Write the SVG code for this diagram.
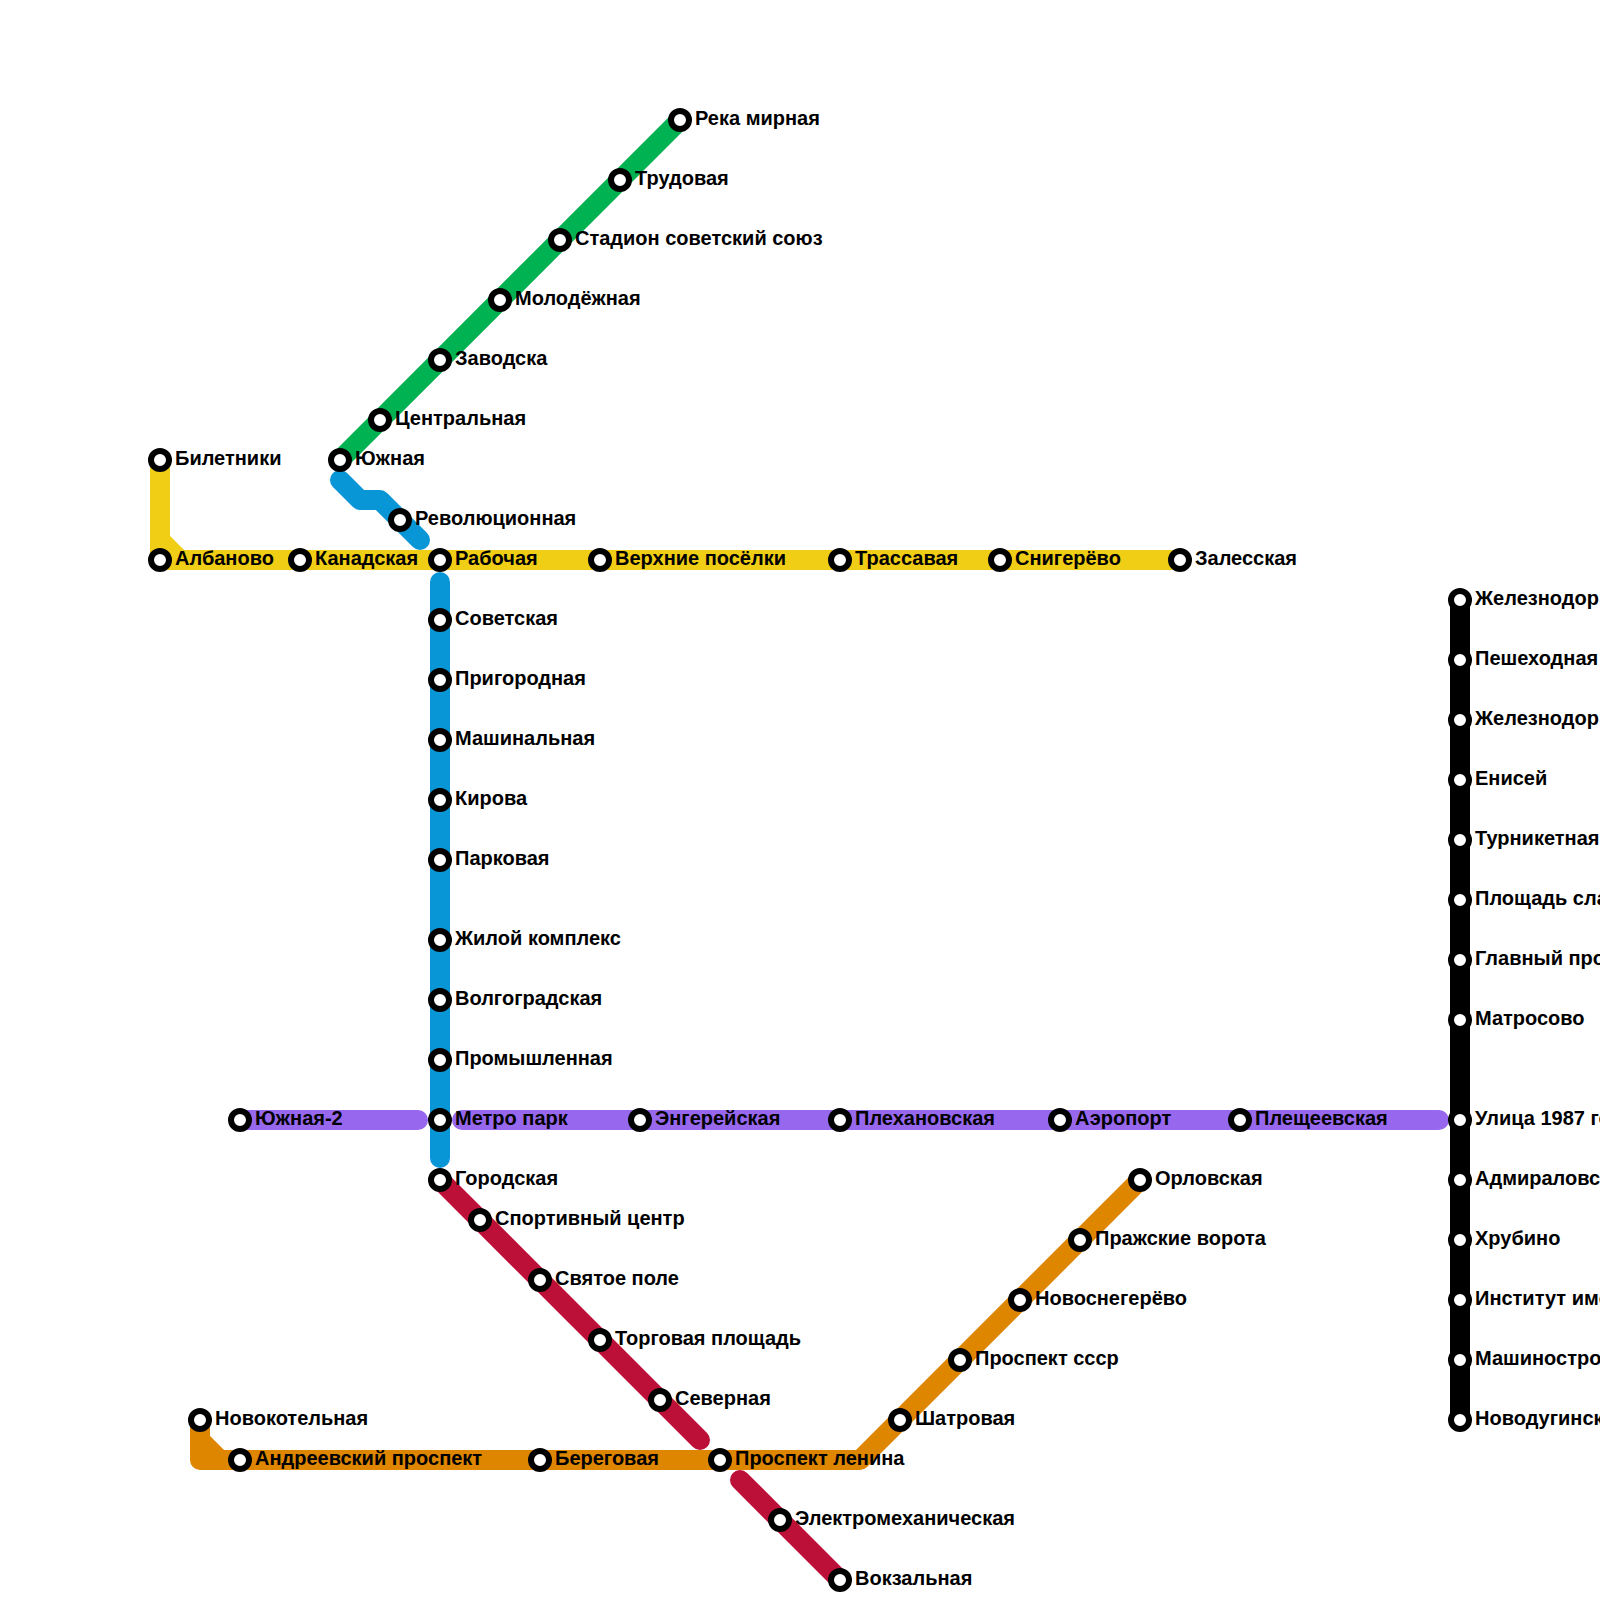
<svg xmlns="http://www.w3.org/2000/svg" width="1600" height="1600" viewBox="0 0 1600 1600">
<style>
.l{fill:none;stroke-width:20;stroke-linecap:round;stroke-linejoin:round}
.g{stroke:#00b251}.b{stroke:#0896d7}.y{stroke:#f0ce15}.p{stroke:#9768ee}.r{stroke:#bd1038}.o{stroke:#df8600}.k{stroke:#000}
.s circle{fill:#fff;stroke:#000;stroke-width:6}
.s text{font-family:"Liberation Sans",Arial,sans-serif;font-weight:bold;font-size:20px;fill:#000}
</style>
<g id="connectors">
<path class="l g" d="M340 460L680 120"/>
<path class="l b" d="M340 480L360 500H380L420 540"/>
<path class="l y" d="M160 460V560H1180M160 540L180 560"/>
<path class="l b" d="M440 582V1158"/>
<path class="l p" d="M240 1120H418M462 1120H1439"/>
<path class="l r" d="M440 1180L700 1440M740 1480L840 1580"/>
<path class="l o" d="M200 1420V1460H860L1140 1180M200 1440L220 1460"/>
<path class="l k" style="stroke-linecap:butt" d="M1460 600V1420"/>
</g>
<g id="stations" class="s">
<g id="n1"><circle cx="160" cy="460" r="9"/><text x="175" y="465">Билетники</text></g>
<g id="n2"><circle cx="160" cy="560" r="9"/><text x="175" y="565">Албаново</text></g>
<g id="n3"><circle cx="300" cy="560" r="9"/><text x="315" y="565">Канадская</text></g>
<g id="n4"><circle cx="440" cy="560" r="9"/><text x="455" y="565">Рабочая</text></g>
<g id="n5"><circle cx="600" cy="560" r="9"/><text x="615" y="565">Верхние посёлки</text></g>
<g id="n6"><circle cx="840" cy="560" r="9"/><text x="855" y="565">Трассавая</text></g>
<g id="n7"><circle cx="1000" cy="560" r="9"/><text x="1015" y="565">Снигерёво</text></g>
<g id="n8"><circle cx="1180" cy="560" r="9"/><text x="1195" y="565">Залесская</text></g>
<g id="n9"><circle cx="340" cy="460" r="9"/><text x="355" y="465">Южная</text></g>
<g id="n10"><circle cx="380" cy="420" r="9"/><text x="395" y="425">Центральная</text></g>
<g id="n11"><circle cx="440" cy="360" r="9"/><text x="455" y="365">Заводска</text></g>
<g id="n12"><circle cx="500" cy="300" r="9"/><text x="515" y="305">Молодёжная</text></g>
<g id="n13"><circle cx="560" cy="240" r="9"/><text x="575" y="245">Стадион советский союз</text></g>
<g id="n14"><circle cx="620" cy="180" r="9"/><text x="635" y="185">Трудовая</text></g>
<g id="n15"><circle cx="680" cy="120" r="9"/><text x="695" y="125">Река мирная</text></g>
<g id="n16"><circle cx="400" cy="520" r="9"/><text x="415" y="525">Революционная</text></g>
<g id="n17"><circle cx="440" cy="620" r="9"/><text x="455" y="625">Советская</text></g>
<g id="n18"><circle cx="440" cy="680" r="9"/><text x="455" y="685">Пригородная</text></g>
<g id="n19"><circle cx="440" cy="740" r="9"/><text x="455" y="745">Машинальная</text></g>
<g id="n20"><circle cx="440" cy="800" r="9"/><text x="455" y="805">Кирова</text></g>
<g id="n21"><circle cx="440" cy="860" r="9"/><text x="455" y="865">Парковая</text></g>
<g id="n22"><circle cx="440" cy="940" r="9"/><text x="455" y="945">Жилой комплекс</text></g>
<g id="n23"><circle cx="440" cy="1000" r="9"/><text x="455" y="1005">Волгоградская</text></g>
<g id="n24"><circle cx="440" cy="1060" r="9"/><text x="455" y="1065">Промышленная</text></g>
<g id="n25"><circle cx="440" cy="1120" r="9"/><text x="455" y="1125">Метро парк</text></g>
<g id="n26"><circle cx="440" cy="1180" r="9"/><text x="455" y="1185">Городская</text></g>
<g id="n27"><circle cx="240" cy="1120" r="9"/><text x="255" y="1125">Южная-2</text></g>
<g id="n28"><circle cx="640" cy="1120" r="9"/><text x="655" y="1125">Энгерейская</text></g>
<g id="n29"><circle cx="840" cy="1120" r="9"/><text x="855" y="1125">Плехановская</text></g>
<g id="n30"><circle cx="1060" cy="1120" r="9"/><text x="1075" y="1125">Аэропорт</text></g>
<g id="n31"><circle cx="1240" cy="1120" r="9"/><text x="1255" y="1125">Плещеевская</text></g>
<g id="n32"><circle cx="480" cy="1220" r="9"/><text x="495" y="1225">Спортивный центр</text></g>
<g id="n33"><circle cx="540" cy="1280" r="9"/><text x="555" y="1285">Святое поле</text></g>
<g id="n34"><circle cx="600" cy="1340" r="9"/><text x="615" y="1345">Торговая площадь</text></g>
<g id="n35"><circle cx="660" cy="1400" r="9"/><text x="675" y="1405">Северная</text></g>
<g id="n36"><circle cx="780" cy="1520" r="9"/><text x="795" y="1525">Электромеханическая</text></g>
<g id="n37"><circle cx="840" cy="1580" r="9"/><text x="855" y="1585">Вокзальная</text></g>
<g id="n38"><circle cx="200" cy="1420" r="9"/><text x="215" y="1425">Новокотельная</text></g>
<g id="n39"><circle cx="240" cy="1460" r="9"/><text x="255" y="1465">Андреевский проспект</text></g>
<g id="n40"><circle cx="540" cy="1460" r="9"/><text x="555" y="1465">Береговая</text></g>
<g id="n41"><circle cx="720" cy="1460" r="9"/><text x="735" y="1465">Проспект ленина</text></g>
<g id="n42"><circle cx="900" cy="1420" r="9"/><text x="915" y="1425">Шатровая</text></g>
<g id="n43"><circle cx="960" cy="1360" r="9"/><text x="975" y="1365">Проспект ссср</text></g>
<g id="n44"><circle cx="1020" cy="1300" r="9"/><text x="1035" y="1305">Новоснегерёво</text></g>
<g id="n45"><circle cx="1080" cy="1240" r="9"/><text x="1095" y="1245">Пражские ворота</text></g>
<g id="n46"><circle cx="1140" cy="1180" r="9"/><text x="1155" y="1185">Орловская</text></g>
<g id="n47"><circle cx="1460" cy="600" r="9"/><text x="1475" y="605">Железнодор</text></g>
<g id="n48"><circle cx="1460" cy="660" r="9"/><text x="1475" y="665">Пешеходная</text></g>
<g id="n49"><circle cx="1460" cy="720" r="9"/><text x="1475" y="725">Железнодор</text></g>
<g id="n50"><circle cx="1460" cy="780" r="9"/><text x="1475" y="785">Енисей</text></g>
<g id="n51"><circle cx="1460" cy="840" r="9"/><text x="1475" y="845">Турникетная</text></g>
<g id="n52"><circle cx="1460" cy="900" r="9"/><text x="1475" y="905">Площадь сла</text></g>
<g id="n53"><circle cx="1460" cy="960" r="9"/><text x="1475" y="965">Главный про</text></g>
<g id="n54"><circle cx="1460" cy="1020" r="9"/><text x="1475" y="1025">Матросово</text></g>
<g id="n55"><circle cx="1460" cy="1120" r="9"/><text x="1475" y="1125">Улица 1987 го</text></g>
<g id="n56"><circle cx="1460" cy="1180" r="9"/><text x="1475" y="1185">Адмираловс</text></g>
<g id="n57"><circle cx="1460" cy="1240" r="9"/><text x="1475" y="1245">Хрубино</text></g>
<g id="n58"><circle cx="1460" cy="1300" r="9"/><text x="1475" y="1305">Институт име</text></g>
<g id="n59"><circle cx="1460" cy="1360" r="9"/><text x="1475" y="1365">Машиностро</text></g>
<g id="n60"><circle cx="1460" cy="1420" r="9"/><text x="1475" y="1425">Новодугинск</text></g>
</g>
</svg>
